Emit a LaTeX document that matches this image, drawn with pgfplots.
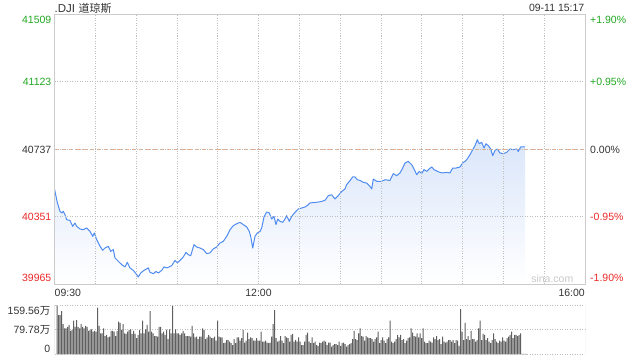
\documentclass[border=0pt]{standalone}
\usepackage{pgfplots}
\pgfplotsset{compat=1.18}
\usepackage{pgfplotstable}
\usepackage{fontspec}
\setmainfont{Liberation Sans}
\newfontfamily\cjk{Noto Sans CJK SC}
\definecolor{txt}{RGB}{51,51,51}
\definecolor{upg}{RGB}{34,168,34}
\definecolor{dnr}{RGB}{235,40,40}
\definecolor{borderc}{RGB}{204,204,204}
\definecolor{gridc}{RGB}{190,190,190}
\definecolor{linec}{RGB}{80,140,240}
\definecolor{filltop}{RGB}{218,230,250}
\definecolor{orangec}{RGB}{245,165,115}
\definecolor{volc}{RGB}{95,95,95}
\definecolor{wmark}{RGB}{200,200,200}
\newcommand\lab{\fontsize{10.5pt}{12pt}\selectfont}

\pgfplotstableread{
m v
0 40509
2.06 40432
4.04 40381
5.29 40372
6.47 40381
7.72 40362
8.97 40333
11.39 40329
13.38 40295
15.07 40314
16.32 40295
18.75 40280
21.17 40276
23.67 40286
26.10 40266
28.08 40238
29.26 40257
31.02 40219
33.45 40181
35.43 40158
37.13 40171
39.55 40181
41.32 40152
43.23 40162
44.48 40114
46.90 40095
49.40 40076
51.83 40063
53.52 40089
55.50 40057
57.93 40043
60.43 40019
61.61 40005
63.37 40028
65.80 40043
68.96 40057
70.21 40032
72.63 40024
74.62 40037
76.31 40028
78.81 40043
80.50 40063
82.48 40057
84.40 40063
86.16 40070
88.59 40100
90.28 40086
92.78 40104
94.69 40120
96.67 40146
98.36 40133
100.13 40127
102.55 40190
104.54 40177
106.96 40171
109.39 40162
111.89 40139
114.32 40143
116.74 40166
119.24 40177
121.67 40200
124.09 40209
126.59 40238
129.02 40276
131.45 40299
133.95 40310
136.37 40318
138.80 40305
141.30 40292
143.21 40266
144.46 40229
145.71 40171
147.40 40238
149.09 40257
151.08 40266
152.33 40286
154.02 40349
156.00 40377
157.91 40372
159.68 40337
161.37 40352
162.84 40305
164.09 40337
165.78 40324
167.76 40318
169.45 40337
170.70 40356
172.61 40324
174.38 40352
176.80 40375
179.23 40395
181.73 40400
184.16 40406
185.85 40414
187.83 40429
191.51 40432
193.93 40434
196.43 40438
198.86 40444
201.29 40471
203.79 40476
206.21 40452
208.64 40471
211.13 40495
213.56 40509
214.81 40534
217.24 40557
219.22 40578
220.91 40578
222.60 40562
224.59 40558
227.01 40547
229.51 40543
231.94 40524
233.19 40509
234.36 40566
236.86 40553
240.54 40553
242.97 40562
246.64 40558
249.07 40597
251.57 40585
254.00 40601
255.98 40629
257.67 40658
260.10 40667
262.60 40648
264.29 40624
266.27 40591
268.18 40610
269.95 40597
271.64 40620
273.62 40610
275.54 40624
277.30 40635
278.99 40620
281.42 40610
283.40 40604
285.39 40601
288.33 40604
290.76 40601
292.74 40629
295.17 40629
298.11 40635
300.09 40658
301.78 40667
303.47 40681
305.46 40706
307.44 40734
309.13 40757
310.82 40791
312.29 40768
314.06 40776
315.75 40744
317.22 40768
318.91 40757
320.68 40738
322.14 40700
323.84 40730
325.53 40738
327.51 40715
329.94 40711
332.44 40719
334.86 40738
337.29 40734
339.79 40738
340.96 40724
342.73 40750
345.89 40750
}\pricetable

\pgfplotstableread[row sep=\\]{
v\\
159.5\\127\\127\\140\\98\\84\\84\\89\\95\\76\\
79\\109\\89\\111\\89\\84\\98\\89\\84\\92\\
89\\76\\79\\81\\73\\76\\73\\151\\92\\68\\
68\\84\\59\\63\\55\\57\\76\\76\\73\\59\\
76\\106\\102\\79\\98\\68\\66\\73\\79\\81\\
66\\76\\66\\52\\63\\79\\68\\109\\68\\81\\
95\\73\\140\\73\\68\\59\\59\\57\\89\\89\\
68\\73\\63\\79\\49\\81\\68\\159\\68\\81\\
68\\68\\63\\68\\76\\68\\59\\59\\59\\57\\
92\\68\\55\\57\\49\\57\\57\\84\\79\\49\\
55\\63\\57\\52\\52\\57\\44\\109\\57\\55\\
55\\36\\38\\46\\46\\41\\36\\30\\49\\36\\
55\\55\\44\\52\\79\\38\\44\\70\\49\\55\\
52\\44\\44\\52\\44\\44\\73\\41\\41\\44\\
38\\36\\38\\57\\98\\143\\52\\41\\44\\59\\
44\\36\\59\\55\\52\\41\\63\\66\\41\\46\\
41\\55\\41\\30\\30\\41\\63\\70\\41\\36\\
55\\36\\41\\30\\27\\38\\36\\41\\44\\41\\
30\\38\\38\\25\\30\\33\\33\\30\\41\\27\\
36\\38\\33\\25\\30\\33\\36\\49\\76\\49\\
46\\68\\84\\59\\57\\44\\59\\55\\52\\52\\
49\\41\\49\\55\\73\\
36\\46\\55\\44\\36\\49\\55\\109\\41\\36\\
41\\49\\63\\55\\63\\46\\49\\36\\44\\52\\
55\\84\\70\\59\\57\\68\\55\\68\\52\\84\\
41\\36\\36\\44\\41\\38\\55\\49\\59\\46\\
49\\33\\57\\41\\38\\41\\46\\46\\41\\46\\
36\\46\\44\\27\\146\\73\\46\\102\\49\\59\\
46\\76\\49\\49\\41\\46\\84\\109\\46\\66\\
63\\46\\52\\41\\36\\46\\68\\49\\41\\36\\
44\\41\\55\\44\\41\\52\\57\\63\\73\\52\\
63\\63\\59\\63\\68\\
1\\1\\1\\1\\
}\voltable

\begin{document}
\begin{tikzpicture}
\useasboundingbox (0pt,0pt) rectangle (640pt,360pt);

\begin{axis}[
  at={(54.5pt,76pt)}, anchor=south west, scale only axis,
  width=530.5pt, height=269.7pt,
  xmin=0, xmax=390, ymin=39965, ymax=41509,
  scaled ticks=false,
  xtick={30,60,...,360}, ytick={40351,40737,41123},
  xticklabels={}, yticklabels={},
  major tick length=0pt,
  grid=major,
  grid style={draw=gridc, line width=0.6pt, dash pattern=on 1pt off 1.5pt},
  axis line style={draw=borderc, line width=0.8pt},
  axis on top,
]
\addplot[draw=none, top color=filltop, bottom color=white]
  table[x=m, y=v] {\pricetable}
  -- (axis cs:345.89,39965) -- (axis cs:0,39965) -- cycle;
\addplot[orangec, line width=0.8pt, dash pattern=on 4pt off 3pt] coordinates {(0,40737) (390,40737)};
\addplot[linec, line width=1pt, line join=round] table[x=m, y=v] {\pricetable};
\end{axis}

\begin{axis}[
  at={(54.5pt,5.7pt)}, anchor=south west, scale only axis,
  width=530.5pt, height=49.3pt,
  xmin=-1.667, xmax=352, ymin=0, ymax=159.56,
  scaled ticks=false,
  xtick=\empty, ytick={79.78}, yticklabels={},
  major tick length=0pt,
  ymajorgrids,
  grid style={draw=gridc, line width=0.6pt, dash pattern=on 1pt off 1.5pt},
  axis line style={draw=none},
]
\addplot[ybar, bar width=1pt, bar shift=0pt, fill=volc, draw=none] table[x expr=\coordindex, y=v] {\voltable};
\draw[gridc, line width=0.6pt, dash pattern=on 1pt off 1.5pt] (rel axis cs:0,1) -- (rel axis cs:1,1);
\draw[gridc, line width=0.6pt, dash pattern=on 1pt off 1.5pt] (rel axis cs:0,0) -- (rel axis cs:1,0);
\draw[borderc, line width=0.8pt] (rel axis cs:0,0) -- (rel axis cs:0,1);
\draw[borderc, line width=0.8pt] (rel axis cs:1,0) -- (rel axis cs:1,1);
\end{axis}

% title and date
\node[anchor=base west, inner sep=0pt, text=txt] (t1) at (54.5pt,348pt) {\fontsize{11.5pt}{13pt}\selectfont .DJI};
\node[anchor=base west, inner sep=0pt, text=txt, xshift=3.2pt] at (t1.base east) {\fontsize{11pt}{13pt}\selectfont\cjk 道琼斯};
\node[anchor=base east, inner sep=0pt, text=txt] at (584.5pt,348.8pt) {\lab 09-11 15:17};

% left price labels
\node[anchor=base east, inner sep=0pt, text=upg] at (51.5pt,336.2pt) {\lab 41509};
\node[anchor=base east, inner sep=0pt, text=upg] at (51.5pt,274.2pt) {\lab 41123};
\node[anchor=base east, inner sep=0pt, text=txt] at (51.5pt,206.7pt) {\lab 40737};
\node[anchor=base east, inner sep=0pt, text=dnr] at (51.5pt,139.5pt) {\lab 40351};
\node[anchor=base east, inner sep=0pt, text=dnr] at (51.5pt,78.5pt) {\lab 39965};

% right percent labels
\node[anchor=base west, inner sep=0pt, text=upg] at (590pt,336.2pt) {\lab +1.90\%};
\node[anchor=base west, inner sep=0pt, text=upg] at (590pt,274.2pt) {\lab +0.95\%};
\node[anchor=base west, inner sep=0pt, text=txt] at (590pt,206.7pt) {\lab 0.00\%};
\node[anchor=base west, inner sep=0pt, text=dnr] at (590pt,139.5pt) {\lab -0.95\%};
\node[anchor=base west, inner sep=0pt, text=dnr] at (590pt,78.5pt) {\lab -1.90\%};

% time labels
\node[anchor=base west, inner sep=0pt, text=txt] at (54.5pt,63.2pt) {\lab 09:30};
\node[anchor=base, inner sep=0pt, text=txt] at (258.5pt,63.2pt) {\lab 12:00};
\node[anchor=base east, inner sep=0pt, text=txt] at (585pt,63.2pt) {\lab 16:00};

% watermark
\node[anchor=base east, inner sep=0pt, text=wmark] at (573.5pt,77.2pt) {\lab sina.com};

% volume labels
\node[anchor=base east, inner sep=0pt, text=txt] at (50.5pt,45.5pt) {\lab 159.56{\cjk 万}};
\node[anchor=base east, inner sep=0pt, text=txt] at (50.5pt,26.7pt) {\lab 79.78{\cjk 万}};
\node[anchor=base east, inner sep=0pt, text=txt] at (50.5pt,7.9pt) {\lab 0};
\end{tikzpicture}
\end{document}
